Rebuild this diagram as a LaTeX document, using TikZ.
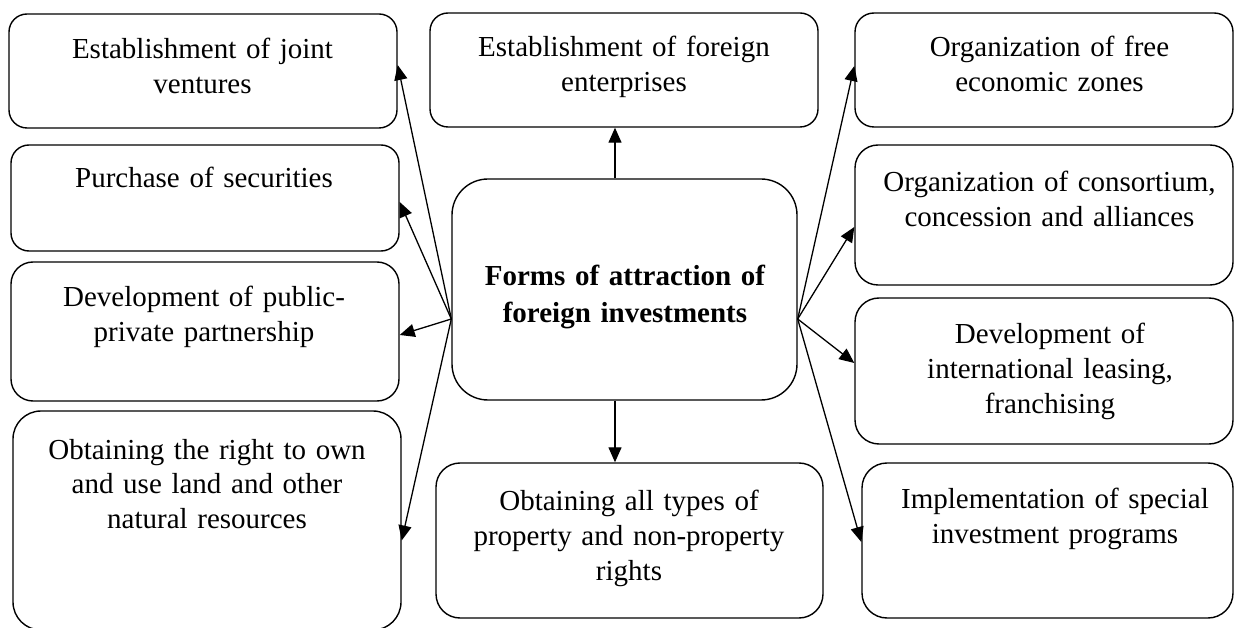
\documentclass[tikz,border=0pt]{standalone}
\usepackage{fontspec}
\setmainfont{Liberation Serif}
\usetikzlibrary{arrows.meta,calc}
\begin{document}
\begin{tikzpicture}[x=1pt,y=-1pt,
  box/.style={draw,line width=1.4pt,inner sep=0pt},
  lbl/.style={anchor=base,text width=380pt,align=center,inner sep=0pt,font=\fontsize{29}{35}\selectfont},
  arr/.style={line width=1.3pt,-{Triangle[length=15pt,width=13pt]}}]
\useasboundingbox (0,0) rectangle (1235,628);
% boxes
\node[box,rounded corners=18pt,minimum width=388pt,minimum height=114pt] (b1) at (203,71) {};
\node[box,rounded corners=18pt,minimum width=388pt,minimum height=106pt] (b2) at (205,198) {};
\node[box,rounded corners=22pt,minimum width=388pt,minimum height=139pt] (b3) at (205,331.5) {};
\node[box,rounded corners=28pt,minimum width=388pt,minimum height=219pt] (b4) at (207,520.5) {};
\node[box,rounded corners=18pt,minimum width=388pt,minimum height=114pt] (t) at (624,70) {};
\node[box,rounded corners=36pt,minimum width=345pt,minimum height=221pt] (c) at (624.5,289.5) {};
\node[box,rounded corners=24pt,minimum width=387pt,minimum height=155pt] (bc) at (629.5,540.5) {};
\node[box,rounded corners=19pt,minimum width=378pt,minimum height=114pt] (r1) at (1044,70) {};
\node[box,rounded corners=23pt,minimum width=378pt,minimum height=140pt] (r2) at (1044,215) {};
\node[box,rounded corners=24pt,minimum width=378pt,minimum height=146pt] (r3) at (1044,371) {};
\node[box,rounded corners=25pt,minimum width=371pt,minimum height=155pt] (r4) at (1047.5,540.5) {};
% texts
\node[lbl] (tb1) at (202.5,59) {Establishment of joint\\ventures};
\node[lbl] (tb2) at (204,188) {Purchase of securities};
\node[lbl] (tb3) at (204,307) {Development of public-\\private partnership};
\node[lbl] (tb4) at (207,459) {Obtaining the right to own\\and use land and other\\natural resources};
\node[lbl] (tt) at (624,57) {Establishment of foreign\\enterprises};
\node[lbl,font=\fontsize{29}{37}\selectfont\bfseries] (tc) at (625,285.5) {Forms of attraction of\\foreign investments};
\node[lbl] (tbc) at (629,510) {Obtaining all types of\\property and non-property\\rights};
\node[lbl] (tr1) at (1049.5,57) {Organization of free\\economic zones};
\node[lbl] (tr2) at (1049.5,192) {Organization of consortium,\\concession and alliances};
\node[lbl] (tr3) at (1050,344) {Development of\\international leasing,\\franchising};
\node[lbl] (tr4) at (1055,508) {Implementation of special\\investment programs};
% arrow origins
\coordinate (cl) at ($(c.west)+(0,29.5)$);
\coordinate (cr) at ($(c.east)+(0,29.5)$);
% arrows
\draw[arr] (cl) -- ([yshift=6pt]b1.east);
\draw[arr] (cl) -- ([yshift=-4pt]b2.east);
\draw[arr] (cl) -- ([yshift=-3.5pt]b3.east);
\draw[arr] (cl) -- ([yshift=-20pt]b4.east);
\draw[arr] ([xshift=-9.5pt]c.north) -- ([xshift=-9pt]t.south);
\draw[arr] ([xshift=-9.5pt]c.south) -- ([xshift=-14.5pt]bc.north);
\draw[arr] (cr) -- ([yshift=4pt]r1.west);
\draw[arr] (cr) -- ([yshift=-12pt]r2.west);
\draw[arr] (cr) -- ([yshift=8pt]r3.west);
\draw[arr] (cr) -- ([yshift=-1.5pt]r4.west);
\end{tikzpicture}
\end{document}
